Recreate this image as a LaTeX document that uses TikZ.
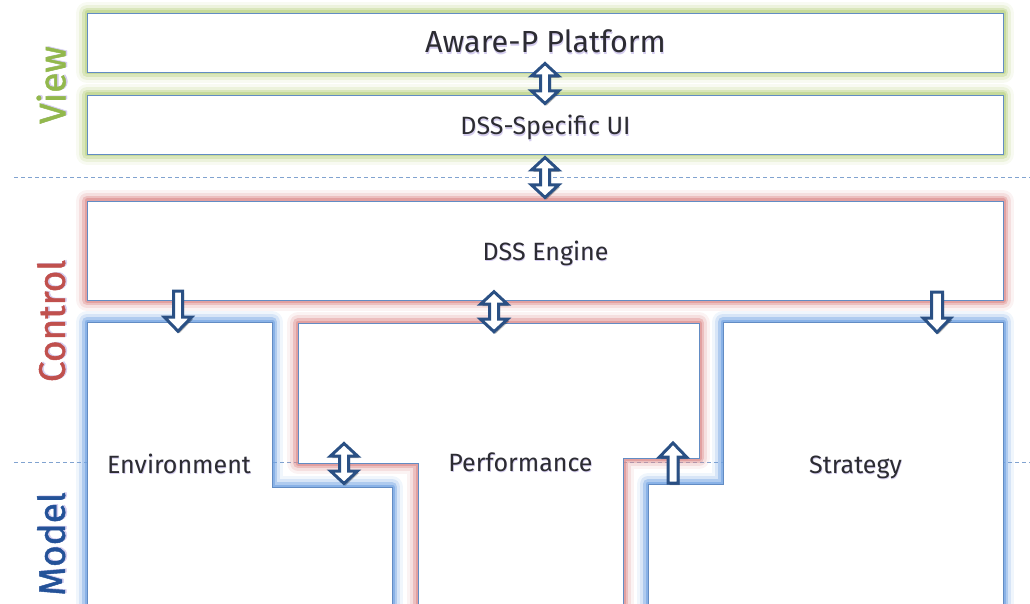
\documentclass[tikz,border=0pt]{standalone}
\usepackage{fontspec}
\setmainfont{Fira Sans}
\newfontfamily\sidefont{Fira Sans}[FakeBold=1.2]
\usetikzlibrary{shadows,calc}

\definecolor{edgeblue}{RGB}{98,140,196}
\definecolor{arrowblue}{RGB}{42,80,132}
\definecolor{viewgreen}{RGB}{146,184,76}
\definecolor{ctrlred}{RGB}{192,80,77}
\definecolor{modelblue}{RGB}{36,82,152}
\definecolor{glowgreen}{RGB}{186,210,132}
\definecolor{glowred}{RGB}{220,140,140}
\definecolor{glowblue}{RGB}{112,162,226}
\definecolor{textgray}{RGB}{44,44,50}
\definecolor{haze}{RGB}{212,204,238}

% soft halo drawn as stacked translucent strokes along a path
\newcommand\glow[2]{%
  \foreach \gw/\go in {22/0.10,16/0.20,10/0.38,5/0.6}{%
    \draw[draw=#1,line width=\gw pt,draw opacity=\go,line join=round] #2;}}

% text with a faint lavender shadow just beneath it
\newcommand\hz[1]{\rlap{\raisebox{-1.6pt}{\kern0.6pt\color{haze}#1}}#1}

\tikzset{
  box/.style={draw=edgeblue,fill=white,line width=0.9pt,inner sep=0pt},
  block/.style={draw=edgeblue,fill=white,line width=0.9pt},
  lbl/.style={text=textgray,font=\fontsize{25}{25}\selectfont,anchor=base,inner sep=0pt},
  tier/.style={font=\sidefont\fontsize{37}{37}\selectfont,rotate=90,inner sep=0pt},
  sep/.style={draw=edgeblue!80,dash pattern=on 4pt off 3pt,line width=0.8pt},
  arrowbox/.style={fill=white,draw=arrowblue,line width=3pt,line join=miter,
    drop shadow={shadow xshift=1.5pt,shadow yshift=-2pt,opacity=0.3,fill=black}},
  arrowdouble/.pic={\path[arrowbox] (0,-20) -- (13.5,-7.5) -- (4.5,-7.5) -- (4.5,7.5) -- (13.5,7.5)
     -- (0,20) -- (-13.5,7.5) -- (-4.5,7.5) -- (-4.5,-7.5) -- (-13.5,-7.5) -- cycle;},
  arrowdown/.pic={\path[arrowbox] (-#1,-20) -- (#1,-20) -- (#1,6) -- (13.5,6) -- (0,20)
     -- (-13.5,6) -- (-#1,6) -- cycle;},
  arrowup/.pic={\path[arrowbox] (0,-20) -- (13.5,-6) -- (5,-6) -- (5,20) -- (-5,20)
     -- (-5,-6) -- (-13.5,-6) -- cycle;},
}

\begin{document}
\begin{tikzpicture}[x=1pt,y=-1pt]
\useasboundingbox (0,0) rectangle (1030,604);
\clip (0,0) rectangle (1030,604);

% tier separators
\draw[sep] (14,177) -- (1030,177);
\draw[sep] (14,462) -- (1030,462);

% halos
\glow{glowgreen}{(87,13) rectangle (1003,72)}
\glow{glowgreen}{(87,95) rectangle (1003,154)}
\glow{glowred}{(87,201) rectangle (1003,300)}
\glow{glowred}{(298,323) -- (699,323) -- (699,458) -- (623,458) -- (623,620) -- (418,620) -- (418,463) -- (298,463) -- cycle}
\glow{glowblue}{(87,322) -- (272,322) -- (272,487) -- (392,487) -- (392,620) -- (87,620) -- cycle}
\glow{glowblue}{(723,322) -- (1003,322) -- (1003,620) -- (648,620) -- (648,484) -- (723,484) -- cycle}

% view and control boxes
\node[box,minimum width=916pt,minimum height=59pt] (platform) at (545,42.5) {};
\node[box,minimum width=916pt,minimum height=59pt] (ui) at (545,124.5) {};
\node[box,minimum width=916pt,minimum height=99pt] (engine) at (545,250.5) {};

% model blocks
\draw[block] (298,323) -- (699,323) -- (699,458) -- (623,458) -- (623,620) -- (418,620) -- (418,463) -- (298,463) -- cycle;
\draw[block] (87,322) -- (272,322) -- (272,487) -- (392,487) -- (392,620) -- (87,620) -- cycle;
\draw[block] (723,322) -- (1003,322) -- (1003,620) -- (648,620) -- (648,484) -- (723,484) -- cycle;

% labels
\node[lbl,font=\fontsize{30.5}{30.5}\selectfont] (platformtext) at (545.5,53) {\hz{Aware-P Platform}};
\node[lbl] (uitext) at (545.5,135) {\hz{DSS-Specific UI}};
\node[lbl] (enginetext) at (545.5,260) {\hz{DSS Engine}};
\node[lbl] (env) at (179,473) {\hz{Environment}};
\node[lbl] (perf) at (520.5,471) {\hz{Performance}};
\node[lbl] (strat) at (855.5,473) {\hz{Strategy}};

% tier names
\node[tier,text=viewgreen] (view) at (52,85) {\hz{View}};
\node[tier,text=ctrlred] (control) at (52,321) {\hz{Control}};
\node[tier,text=modelblue] (model) at (52,544) {\hz{Model}};

% anchor points of the block arrows
\coordinate (envtop) at (178,322);
\coordinate (perftop) at (494,323);
\coordinate (strattop) at (937,322);
\coordinate (envperf) at (344,463.5);
\coordinate (stratperf) at (673,463);

% block arrows
\pic at ($(platform.south)!.5!(ui.north)$) {arrowdouble};
\pic at ($(ui.south)!.5!(engine.north)$) {arrowdouble};
\pic at ($(engine.south -| envtop)!.5!(envtop)$) {arrowdown=4.5};
\pic at ($(engine.south -| perftop)!.5!(perftop)$) {arrowdouble};
\pic at ($(engine.south -| strattop)!.5!(strattop)+(0,1)$) {arrowdown=5.5};
\pic at (envperf) {arrowdouble};
\pic at (stratperf) {arrowup};
\end{tikzpicture}
\end{document}
